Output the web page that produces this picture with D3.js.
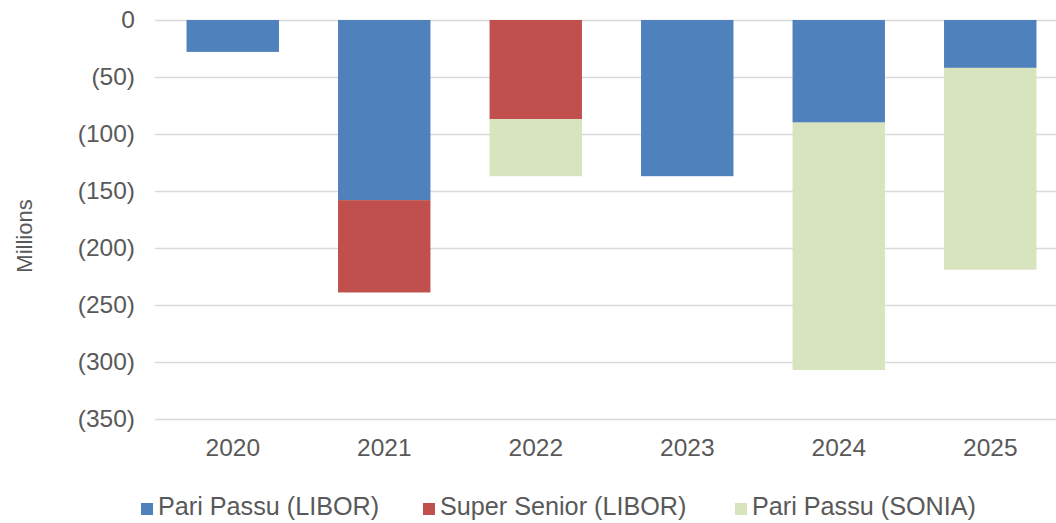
<!DOCTYPE html>
<html>
<head>
<meta charset="utf-8">
<script src="https://cdn.jsdelivr.net/npm/d3@7"></script>
<style>
  html, body { margin: 0; padding: 0; background: #fff; }
  text { font-family: "Liberation Sans", Arial, sans-serif; fill: #595959; }
</style>
</head>
<body>
<div id="chart"></div>
<script>
// data (millions, negative values)
const years = ["2020", "2021", "2022", "2023", "2024", "2025"];
const pariPassuLibor = [-28, -158, 0, -137, -90, -42];
const superSeniorLibor = [0, -81, -87, 0, 0, 0];
const pariPassuSonia = [0, 0, -50, 0, -217, -177];
const seriesNames = ["Pari Passu (LIBOR)", "Super Senior (LIBOR)", "Pari Passu (SONIA)"];
const seriesColors = ["#4F81BD", "#C0504D", "#D7E4BD"];
const yTicks = [0, -50, -100, -150, -200, -250, -300, -350];

const width = 1056, height = 523;

let rows = years.map((y, i) => ({
    year: y,
    s0: pariPassuLibor[i],
    s1: superSeniorLibor[i],
    s2: pariPassuSonia[i]
}));

let svg = d3.select("#chart")
    .append("svg")
        .attr("width", width)
        .attr("height", height);

let x = d3.scaleBand()
    .domain(years)
    .range([157, 1066])
    .paddingInner(0.39)
    .paddingOuter(0.195);

let y = d3.scaleLinear()
    .domain([-350, 0])
    .range([419, 20]);

// gridlines
svg.append("g")
    .selectAll("line")
    .data(yTicks)
    .enter()
    .append("line")
        .attr("x1", 155)
        .attr("x2", width)
        .attr("y1", d => Math.round(y(d)) + 0.5)
        .attr("y2", d => Math.round(y(d)) + 0.5)
        .attr("stroke", "#D9D9D9")
        .attr("stroke-width", 1.5);

// stacked bars
let stack = d3.stack()
    .keys(["s0", "s1", "s2"])
    .offset(d3.stackOffsetDiverging);

let layers = stack(rows);

svg.append("g")
    .selectAll("g")
    .data(layers)
    .enter()
    .append("g")
        .attr("fill", (d, i) => seriesColors[i])
    .selectAll("rect")
    .data(d => d)
    .enter()
    .append("rect")
        .attr("x", d => x(d.data.year))
        .attr("width", x.bandwidth())
        .attr("y", d => y(Math.max(d[0], d[1])))
        .attr("height", d => Math.abs(y(d[0]) - y(d[1])));

// y axis labels
let fmt = v => v === 0 ? "0" : "(" + Math.abs(v) + ")";
let yAxis = svg.append("g")
    .attr("transform", "translate(145,0)")
    .call(d3.axisLeft(y).tickValues(yTicks).tickFormat(fmt).tickSize(0).tickPadding(10));
yAxis.select(".domain").remove();
yAxis.selectAll("text")
    .style("font-size", "24.5px")
    .attr("fill", "#595959");

// x axis labels
let xAxis = svg.append("g")
    .attr("transform", "translate(0,425)")
    .call(d3.axisBottom(x).tickSize(0).tickPadding(14));
xAxis.select(".domain").remove();
xAxis.selectAll("text")
    .style("font-size", "24.5px")
    .attr("fill", "#595959");

// axis title
svg.append("text")
    .attr("transform", "translate(32,236) rotate(-90)")
    .attr("text-anchor", "middle")
    .style("font-size", "22px")
    .text("Millions");

// legend
let legendX = [141, 423, 735];
let legend = svg.append("g")
    .selectAll("g")
    .data(seriesNames)
    .enter()
    .append("g")
        .attr("transform", (d, i) => `translate(${legendX[i]},515)`);

legend.append("rect")
    .attr("x", 0)
    .attr("y", -12)
    .attr("width", 12)
    .attr("height", 12)
    .attr("fill", (d, i) => seriesColors[i]);

legend.append("text")
    .attr("x", 17)
    .attr("y", 0)
    .style("font-size", "25.2px")
    .text(d => d);
</script>
</body>
</html>
